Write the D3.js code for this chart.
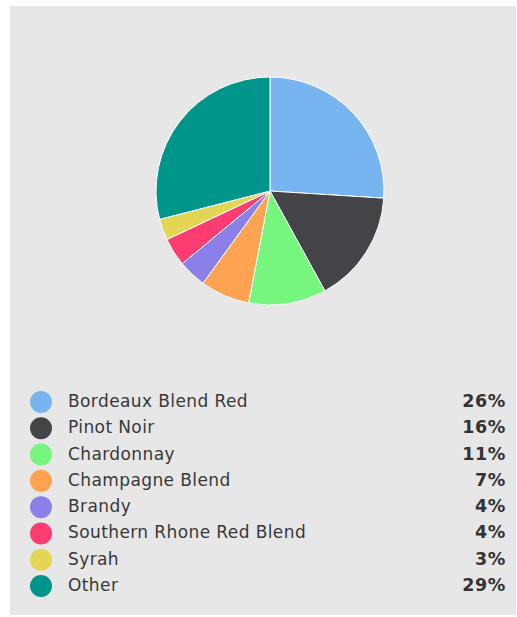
<!DOCTYPE html>
<html>
<head>
<meta charset="utf-8">
<script src="https://cdn.jsdelivr.net/npm/d3@7"></script>
<style>
  html, body { margin: 0; padding: 0; background: #ffffff; }
  svg { display: block; }
</style>
</head>
<body>
<svg id="chart" width="517" height="617"></svg>
<script>
// Share of wines by variety (percent)
const categories = [
  "Bordeaux Blend Red",
  "Pinot Noir",
  "Chardonnay",
  "Champagne Blend",
  "Brandy",
  "Southern Rhone Red Blend",
  "Syrah",
  "Other"
];
const shares = [26, 16, 11, 7, 4, 4, 3, 29];
const colors = [
  "#78b4ef", "#434348", "#76f57f", "#fea352",
  "#8a80e8", "#fd3d72", "#e4d655", "#00958a"
];

const svg = d3.select("#chart");

// panel background
svg.append("rect")
  .attr("x", 10).attr("y", 6)
  .attr("width", 506).attr("height", 609)
  .attr("fill", "#e7e7e7");

const data = categories.map((c, i) => ({ name: c, value: shares[i], color: colors[i] }));

// pie
const cx = 270, cy = 191, radius = 114;
const pie = d3.pie().value(d => d.value).sort(null);
const arc = d3.arc().innerRadius(0).outerRadius(radius);

svg.append("g")
  .attr("transform", `translate(${cx},${cy})`)
  .selectAll("path")
  .data(pie(data))
  .join("path")
  .attr("d", arc)
  .attr("fill", d => d.data.color)
  .attr("stroke", "#ffffff")
  .attr("stroke-width", 1)
  .attr("stroke-linejoin", "round");

// legend
const rowY = d3.scaleLinear().domain([0, categories.length - 1]).range([402, 586]);
const fmt = v => `${Math.round(v)}%`;

const rows = svg.append("g")
  .selectAll("g")
  .data(data)
  .join("g")
  .attr("transform", (d, i) => `translate(0,${rowY(i)})`);

rows.append("circle")
  .attr("cx", 41).attr("cy", 0).attr("r", 11)
  .attr("fill", d => d.color);

rows.append("text")
  .attr("x", 68).attr("y", 5)
  .attr("font-family", "DejaVu Sans, Verdana, sans-serif")
  .attr("font-size", 17)
  .attr("letter-spacing", 0.4)
  .attr("fill", "#383838")
  .text(d => d.name);

rows.append("text")
  .attr("x", 506).attr("y", 5)
  .attr("text-anchor", "end")
  .attr("font-family", "DejaVu Sans, Verdana, sans-serif")
  .attr("font-weight", "bold")
  .attr("font-size", 17.5)
  .attr("letter-spacing", 0.6)
  .attr("fill", "#333333")
  .text(d => fmt(d.value));
</script>
</body>
</html>
